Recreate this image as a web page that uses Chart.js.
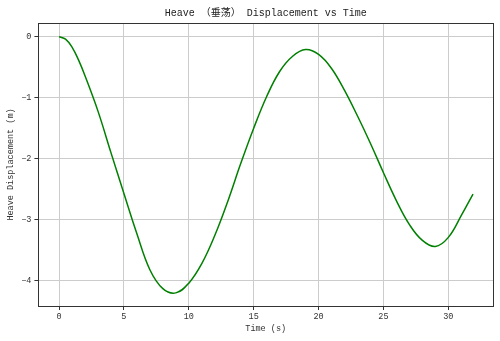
<!DOCTYPE html>
<html>
<head>
<meta charset="utf-8">
<script src="https://cdn.jsdelivr.net/npm/chart.js@4"></script>
<style>
  html, body { margin: 0; padding: 0; background: #fff; }
  #wrap { width: 500px; height: 341px; }
</style>
</head>
<body>
<div id="wrap"><canvas id="myChart" width="500" height="341"></canvas></div>
<script>
// values
const times = [0, 0.5, 1, 1.5, 2, 3, 4, 5, 6, 7, 8, 9, 10, 11, 12, 13, 14, 15, 16, 17, 18, 19, 20,
    21, 22, 23, 24, 25, 26, 27, 28, 29, 30, 31, 31.9];
const heave = [0, -0.04, -0.17, -0.38, -0.64, -1.22, -1.9, -2.57, -3.23, -3.82, -4.13, -4.2, -4.04,
    -3.72, -3.26, -2.7, -2.08, -1.5, -0.98, -0.57, -0.32, -0.21, -0.29,
    -0.52, -0.88, -1.3, -1.75, -2.23, -2.69, -3.08, -3.34, -3.44, -3.29, -2.93, -2.58];
const xTicks = [0, 5, 10, 15, 20, 25, 30];
const yTicks = [0, -1, -2, -3, -4];

const FONT = '"Liberation Mono", "Noto Sans CJK SC", monospace';

const framePlugin = {
    id: 'frame',
    afterDraw(chart) {
        const {ctx, chartArea: a} = chart;
        ctx.save();
        ctx.strokeStyle = '#333';
        ctx.lineWidth = 1;
        ctx.strokeRect(Math.round(a.left) + 0.5, Math.round(a.top) + 0.5,
            Math.round(a.right - a.left), Math.round(a.bottom - a.top));
        ctx.restore();
    }
};

const ctx = document.getElementById('myChart').getContext('2d');
const myChart = new Chart(ctx, {
    type: 'line',
    data: {
        datasets: [{
            data: times.map((t, i) => ({x: t, y: heave[i]})),
            borderColor: '#008000',
            borderWidth: 1.5,
            pointRadius: 0,
            fill: false,
            tension: 0.4
        }]
    },
    options: {
        responsive: false,
        animation: false,
        layout: {padding: {left: 0, right: 7, top: 0, bottom: 0}},
        plugins: {
            legend: {display: false},
            tooltip: {enabled: false},
            title: {
                display: true,
                fullSize: false,
                text: 'Heave （垂荡） Displacement vs Time',
                color: '#222',
                font: {family: FONT, size: 10, weight: 'normal'},
                padding: {top: 7, bottom: 4}
            }
        },
        scales: {
            x: {
                type: 'linear',
                min: -1.59,
                max: 33.44,
                afterBuildTicks: scale => { scale.ticks = xTicks.map(v => ({value: v})); },
                afterFit: scale => { scale.height = 35; },
                ticks: {
                    color: '#333',
                    font: {family: FONT, size: 8.5},
                    padding: 2,
                    maxRotation: 0,
                    callback: v => String(v)
                },
                grid: {color: '#cccccc', lineWidth: 1, tickLength: 4, tickColor: '#333'},
                border: {display: false},
                title: {
                    display: true,
                    text: 'Time (s)',
                    color: '#333',
                    font: {family: FONT, size: 8.5},
                    padding: {top: 0, bottom: 7}
                }
            },
            y: {
                type: 'linear',
                min: -4.415,
                max: 0.225,
                afterBuildTicks: scale => { scale.ticks = yTicks.map(v => ({value: v})); },
                afterFit: scale => { scale.width = 38.4; },
                ticks: {
                    color: '#333',
                    font: {family: FONT, size: 8.5},
                    padding: 3,
                    callback: v => v < 0 ? '\u2212' + Math.abs(v) : String(v)
                },
                grid: {color: '#cccccc', lineWidth: 1, tickLength: 4, tickColor: '#333'},
                border: {display: false},
                title: {
                    display: true,
                    text: 'Heave Displacement (m)',
                    color: '#333',
                    font: {family: FONT, size: 8.5},
                    padding: {top: 6, bottom: 0}
                }
            }
        }
    },
    plugins: [framePlugin]
});
</script>
</body>
</html>
